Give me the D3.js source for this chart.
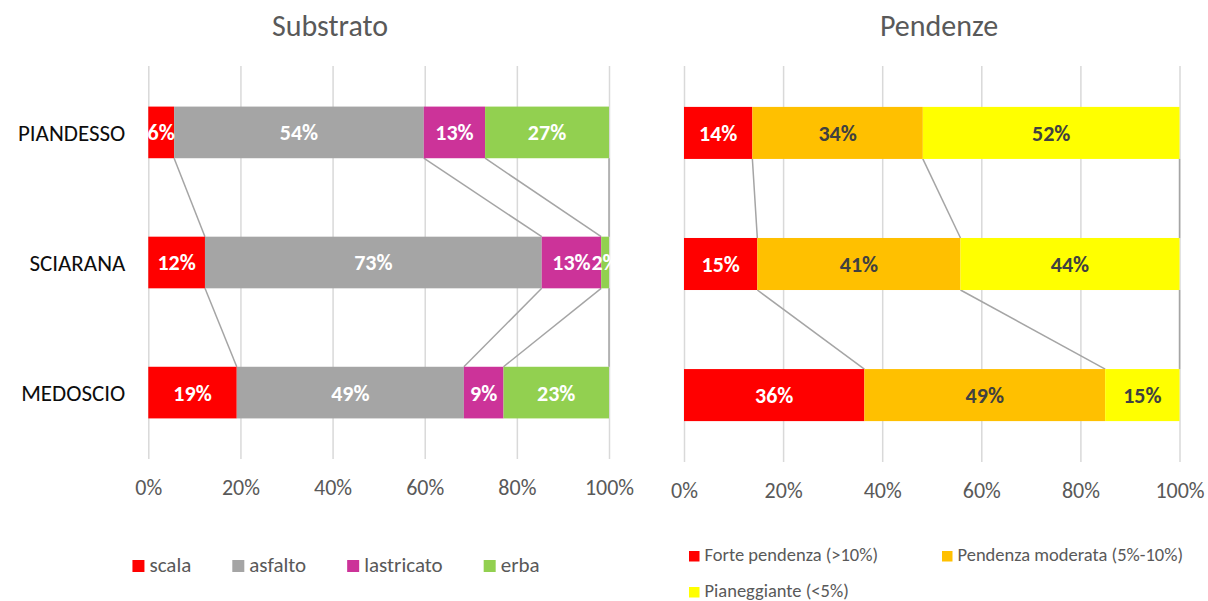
<!DOCTYPE html>
<html>
<head>
<meta charset="utf-8">
<script src="https://cdn.jsdelivr.net/npm/d3@7"></script>
<style>
  body { margin: 0; background: #fff; }
  svg { display: block; font-family: Carlito, Calibri, Lato, sans-serif; }
</style>
</head>
<body>
<script>
const categories = ['PIANDESSO', 'SCIARANA', 'MEDOSCIO']

// Substrato (% per tratto)
const substratoKeys = ['scala', 'asfalto', 'lastricato', 'erba']
const scala = [5.6, 12.3, 19.2]
const asfalto = [54.2, 73.1, 49.3]
const lastricato = [13.3, 12.9, 8.6]
const erba = [26.9, 1.7, 22.9]
const substratoColors = ['#ff0000', '#a5a5a5', '#cc3399', '#92d050']

// Pendenze (% per tratto)
const pendenzeKeys = ['Forte pendenza (>10%)', 'Pendenza moderata (5%-10%)', 'Pianeggiante (<5%)']
const forte = [13.8, 14.8, 36.4]
const moderata = [34.4, 41.0, 48.6]
const pianeggiante = [51.8, 44.2, 15.0]
const pendenzeColors = ['#ff0000', '#ffc000', '#ffff00']
const pendenzeLabelColors = ['#ffffff', '#404040', '#404040']

const ticks = [0, 20, 40, 60, 80, 100]

const FONT = 'Carlito, Calibri, Lato, sans-serif'
const W = 1208, H = 601
const svg = d3.select('body').append('svg')
  .attr('width', W)
  .attr('height', H)

const pct = v => d3.format('.0f')(v) + '%'

function buildRows(keys, series) {
  return categories.map((c, i) => {
    const row = { cat: c }
    keys.forEach((k, j) => { row[k] = series[j][i] })
    return row
  })
}

function drawPanel({ title, titleX, keys, series, colors, labelColors, x0, x1, y0, y1, showCats }) {
  const g = svg.append('g')
  const rows = buildRows(keys, series)
  const stacked = d3.stack().keys(keys)(rows)

  const x = d3.scaleLinear().domain([0, 100]).range([x0, x1])
  const y = d3.scaleBand().domain(categories).range([y0, y1])
    .paddingInner(0.603).paddingOuter(0.312)
  const bw = y.bandwidth()

  // gridlines + tick labels
  const axis = g.append('g')
    .attr('transform', `translate(0,${y1})`)
    .call(d3.axisBottom(x).tickValues(ticks).tickFormat(d => d + '%')
      .tickSize(-(y1 - y0)).tickPadding(20))
    .attr('font-family', FONT)
  axis.select('.domain').remove()
  axis.selectAll('.tick line').attr('stroke', '#d9d9d9').attr('stroke-width', 1.5)
  axis.selectAll('.tick text')
    .attr('fill', '#595959')
    .style('font-size', '22px')

  // series lines between bars
  const lines = g.append('g')
  stacked.forEach(s => {
    for (let i = 0; i < categories.length - 1; i++) {
      lines.append('line')
        .attr('x1', x(s[i][1]))
        .attr('y1', y(categories[i]) + bw)
        .attr('x2', x(s[i + 1][1]))
        .attr('y2', y(categories[i + 1]))
        .attr('stroke', '#a5a5a5')
        .attr('stroke-width', 1.5)
    }
  })

  // bars
  const layers = g.selectAll('.layer')
    .data(stacked)
    .join('g')
    .attr('class', 'layer')
    .attr('fill', (d, i) => colors[i])

  layers.selectAll('rect')
    .data(d => d)
    .join('rect')
    .attr('x', d => x(d[0]))
    .attr('y', d => y(d.data.cat))
    .attr('width', d => x(d[1]) - x(d[0]))
    .attr('height', bw)

  // data labels
  stacked.forEach((s, i) => {
    g.append('g').selectAll('text')
      .data(s)
      .join('text')
      .attr('x', d => x((d[0] + d[1]) / 2))
      .attr('y', d => y(d.data.cat) + bw / 2)
      .attr('dy', '0.36em')
      .attr('text-anchor', 'middle')
      .attr('fill', labelColors ? labelColors[i] : '#fff')
      .style('font-size', '22px')
      .style('font-weight', 'bold')
      .text(d => pct(d[1] - d[0]))
  })

  if (showCats) {
    g.append('g').selectAll('text')
      .data(categories)
      .join('text')
      .attr('x', x0 - 23)
      .attr('y', d => y(d) + bw / 2)
      .attr('dy', '0.36em')
      .attr('text-anchor', 'end')
      .attr('fill', '#0d0d0d')
      .style('font-size', '23px')
      .text(d => d)
  }

  svg.append('text')
    .attr('x', titleX)
    .attr('y', 25)
    .attr('dy', '0.36em')
    .attr('text-anchor', 'middle')
    .attr('fill', '#595959')
    .style('font-size', '30px')
    .text(title)
}

drawPanel({
  title: 'Substrato', titleX: 330,
  keys: substratoKeys,
  series: [scala, asfalto, lastricato, erba],
  colors: substratoColors,
  x0: 148.3, x1: 609, y0: 66, y1: 459,
  showCats: true
})

drawPanel({
  title: 'Pendenze', titleX: 939,
  keys: pendenzeKeys,
  series: [forte, moderata, pianeggiante],
  colors: pendenzeColors,
  labelColors: pendenzeLabelColors,
  x0: 684, x1: 1179.5, y0: 66, y1: 462,
  showCats: false
})

// legend: substrato (one row, centred under panel)
const leg1 = svg.append('g')
let lx = 0
substratoKeys.forEach((k, i) => {
  const it = leg1.append('g')
  it.append('rect').attr('width', 12).attr('height', 12).attr('y', -12)
    .attr('fill', substratoColors[i])
  const t = it.append('text').attr('x', 17).attr('y', 0)
    .attr('fill', '#595959').style('font-size', '21px').text(k)
  const w = 17 + t.node().getComputedTextLength()
  it.attr('transform', `translate(${lx},0)`)
  lx += w + 41
})
const leg1W = lx - 41
leg1.attr('transform', `translate(${336 - leg1W / 2},572)`)

// legend: pendenze (wraps to two rows)
const leg2Pos = [[689, 561], [942, 561], [689, 597]]
pendenzeKeys.forEach((k, i) => {
  const it = svg.append('g').attr('transform', `translate(${leg2Pos[i][0]},${leg2Pos[i][1]})`)
  it.append('rect').attr('width', 10.5).attr('height', 10.5).attr('y', -10)
    .attr('fill', pendenzeColors[i])
  it.append('text').attr('x', 15.5).attr('y', 0)
    .attr('fill', '#595959').style('font-size', '18.5px').text(k)
})
</script>
</body>
</html>
